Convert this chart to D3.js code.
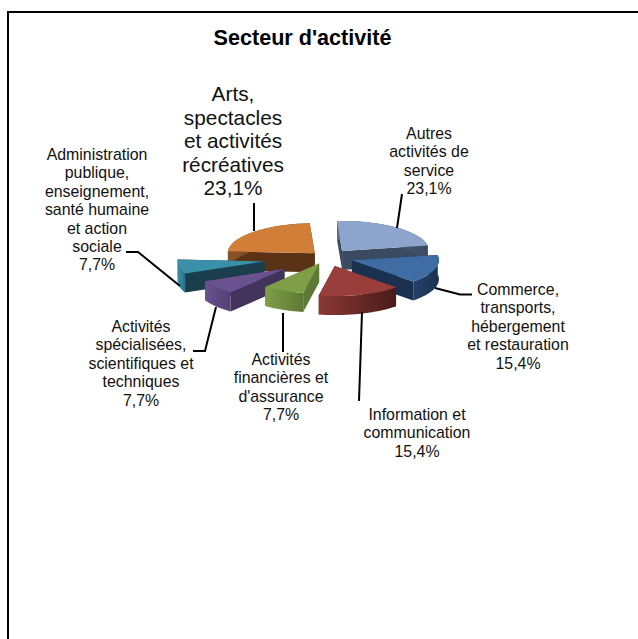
<!DOCTYPE html>
<html>
<head>
<meta charset="utf-8">
<script src="https://cdn.jsdelivr.net/npm/d3@7"></script>
<style>
  html, body { margin: 0; padding: 0; background: #fff; }
  svg { display: block; }
  text { font-family: "Liberation Sans", Arial, sans-serif; fill: #111; text-anchor: middle; }
</style>
</head>
<body>
<div id="chart"></div>
<script>
// Secteur d'activite - exploded 3D pie

const categories = [
  "Autres activités de service",
  "Commerce, transports, hébergement et restauration",
  "Information et communication",
  "Activités financières et d'assurance",
  "Activités spécialisées, scientifiques et techniques",
  "Administration publique, enseignement, santé humaine et action sociale",
  "Arts, spectacles et activités récréatives"
];
const shares = [23.1, 15.4, 15.4, 7.7, 7.7, 7.7, 23.1];
const explosions = [0.28, 0.3, 0.3, 0.22, 0.62, 0.73, 0.2];

const labelLines = [
  ["Autres", "activités de", "service", "23,1%"],
  ["Commerce,", "transports,", "hébergement", "et restauration", "15,4%"],
  ["Information et", "communication", "15,4%"],
  ["Activités", "financières et", "d'assurance", "7,7%"],
  ["Activités", "spécialisées,", "scientifiques et", "techniques", "7,7%"],
  ["Administration", "publique,", "enseignement,", "santé humaine", "et action", "sociale", "7,7%"],
  ["Arts,", "spectacles", "et activités", "récréatives", "23,1%"]
];

const width = 638, height = 639;
const cx = 327, cy = 257.5, radiusX = 87, radiusY = 30, depth = 19;
const rotation = -3.3 * Math.PI / 180;

const topColor = ["#8DA4CC", "#3E6CA3", "#9A3E3C", "#7F9F47", "#6A5190", "#3A8FA9", "#D17F38"];
const sideColor = ["#3C4A60", "#1B3150", "#5A2220", "#5E7935", "#42335A", "#1A3E4B", "#5A3316"];
const wallLight = ["#5A6E8E", "#24406A", "#8A3836", "#7F9F47", "#6A5190", "#3A8FA9", "#8A5426"];
const wallDark = ["#3C4A60", "#1B3150", "#4A1B19", "#5E7935", "#553F75", "#2C7389", "#5A3316"];

// back to front
const drawOrder = [6, 0, 1, 5, 4, 2, 3];

const labelX = [429, 518, 417, 281, 141, 97, 233];
const labelY = [139, 295, 420, 365, 332, 160, 101];
const labelSize = [15.9, 15.9, 15.9, 15.9, 15.9, 15.9, 20.8];
const labelLead = [18.4, 18.4, 18.4, 18.4, 18.4, 18.4, 23.5];

const leaders = [
  [[402, 194], [397, 228]],
  [[472, 294.5], [460, 294.5], [435, 288]],
  [[359, 401], [362, 312]],
  [[283, 352], [283, 313]],
  [[193, 351], [205, 351], [216, 307]],
  [[126, 252], [138, 252], [180, 286]],
  [[254, 203], [254, 231]]
];

const svg = d3.select("#chart").append("svg")
  .attr("width", width)
  .attr("height", height);

svg.append("path")
  .attr("d", d3.line()([[8, height], [8, 12], [width, 12]]))
  .attr("fill", "none")
  .attr("stroke", "#000")
  .attr("stroke-width", 2);

svg.append("text")
  .attr("x", 302.5)
  .attr("y", 45)
  .attr("font-size", 21.6)
  .attr("font-weight", "bold")
  .style("fill", "#000")
  .text("Secteur d'activité");

const x = d3.scaleLinear().domain([-1, 1]).range([cx - radiusX, cx + radiusX]);
const y = d3.scaleLinear().domain([-1, 1]).range([cy - radiusY, cy + radiusY]);

const pie = d3.pie().sort(null).startAngle(rotation).endAngle(rotation + 2 * Math.PI);
const arcs = pie(shares);
const line = d3.line();
const defs = svg.append("defs");

function project(angle, r, off) {
  return [x(off[0] + r * Math.sin(angle)), y(off[1] - r * Math.cos(angle))];
}

function arcPoints(d, off) {
  const n = 40;
  return d3.range(n + 1).map(function(i) {
    return project(d.startAngle + (d.endAngle - d.startAngle) * i / n, 1, off);
  });
}

function drop(points) {
  return points.map(function(p) { return [p[0], p[1] + depth]; });
}

const chart = svg.append("g");

drawOrder.forEach(function(i) {
  const d = arcs[i];
  const mid = (d.startAngle + d.endAngle) / 2;
  const off = [explosions[i] * Math.sin(mid), -explosions[i] * Math.cos(mid)];
  const apex = project(0, 0, off);
  const rim = arcPoints(d, off);
  const g = chart.append("g");

  const grad = defs.append("linearGradient")
    .attr("id", "wall" + i)
    .attr("gradientUnits", "userSpaceOnUse")
    .attr("x1", d3.min(rim, p => p[0])).attr("x2", d3.max(rim, p => p[0]))
    .attr("y1", 0).attr("y2", 0);
  grad.append("stop").attr("offset", 0).attr("stop-color", wallLight[i]);
  grad.append("stop").attr("offset", 1).attr("stop-color", wallDark[i]);

  // both cut faces first, then the outer wall, then the top
  [rim[0], rim[rim.length - 1]].forEach(function(p) {
    const face = [apex, p, [p[0], p[1] + depth], [apex[0], apex[1] + depth]];
    g.append("path")
      .attr("d", line(face) + "Z")
      .attr("fill", sideColor[i]);
  });

  const wall = rim.concat(drop(rim).reverse());
  g.append("path")
    .attr("d", line(wall) + "Z")
    .attr("fill", "url(#wall" + i + ")");

  g.append("path")
    .attr("d", line([apex].concat(rim)) + "Z")
    .attr("fill", topColor[i]);
});

// leader lines
svg.append("g").selectAll("path")
  .data(leaders)
  .enter()
  .append("path")
  .attr("d", function(d) { return line(d); })
  .attr("fill", "none")
  .attr("stroke", "#000")
  .attr("stroke-width", 2);

// labels
const labels = svg.append("g").selectAll("text")
  .data(categories)
  .enter()
  .append("text")
  .attr("font-size", function(d, i) { return labelSize[i]; });

labels.each(function(d, i) {
  d3.select(this).selectAll("tspan")
    .data(labelLines[i])
    .enter()
    .append("tspan")
    .attr("x", labelX[i])
    .attr("y", function(t, j) { return labelY[i] + j * labelLead[i]; })
    .text(function(t) { return t; });
});
</script>
</body>
</html>
